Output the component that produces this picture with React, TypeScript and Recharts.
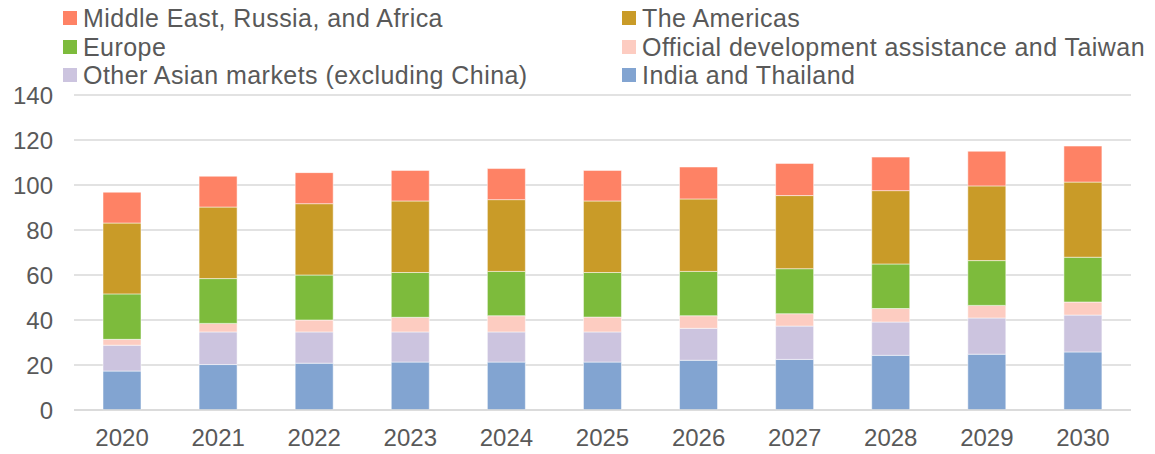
import { BarChart, Bar, XAxis, YAxis, CartesianGrid } from 'recharts'

const years = ['2020', '2021', '2022', '2023', '2024', '2025', '2026', '2027', '2028', '2029', '2030']
const indiaThailand = [17.3, 20.2, 20.8, 21.3, 21.3, 21.3, 22.1, 22.5, 24.3, 24.8, 25.8]
const otherAsian = [11.5, 14.5, 13.9, 13.4, 13.4, 13.4, 14.2, 14.8, 14.8, 16.1, 16.4]
const oda = [2.6, 3.8, 5.3, 6.5, 7.2, 6.6, 5.6, 5.5, 6.0, 5.6, 5.8]
const europe = [20.2, 19.9, 20.0, 19.9, 19.7, 19.8, 19.7, 20.0, 19.8, 19.9, 19.9]
const americas = [31.5, 31.8, 31.7, 31.8, 31.9, 31.8, 32.2, 32.5, 32.6, 33.2, 33.4]
const meRussiaAfrica = [13.7, 13.7, 13.8, 13.6, 13.8, 13.6, 14.2, 14.3, 14.9, 15.4, 16.0]
const yTicks = [0, 20, 40, 60, 80, 100, 120, 140]

const series = [
  { key: 'india', name: 'India and Thailand', color: '#82A4D1', values: indiaThailand },
  { key: 'otherAsian', name: 'Other Asian markets (excluding China)', color: '#CCC4DF', values: otherAsian },
  { key: 'oda', name: 'Official development assistance and Taiwan', color: '#FDCCC1', values: oda },
  { key: 'europe', name: 'Europe', color: '#7DBB3C', values: europe },
  { key: 'americas', name: 'The Americas', color: '#C99B28', values: americas },
  { key: 'mera', name: 'Middle East, Russia, and Africa', color: '#FE8265', values: meRussiaAfrica },
]

const data = years.map((year, i) => {
  const row: Record<string, string | number> = { year }
  series.forEach((s) => {
    row[s.key] = s.values[i]
  })
  return row
})

// legend order as in the reference: two columns, row by row
const legendOrder = ['mera', 'americas', 'europe', 'oda', 'otherAsian', 'india']

const font = '"Liberation Sans", Arial, sans-serif'
const textColor = '#595959'

function ChartLegend() {
  return (
    <div
      style={{
        position: 'absolute',
        left: 63,
        top: 4,
        display: 'grid',
        gridTemplateColumns: '559px 530px',
        fontFamily: font,
        fontSize: 25,
        letterSpacing: 0.45,
        color: textColor,
        lineHeight: '28.5px',
      }}
    >
      {legendOrder.map((k) => {
        const s = series.find((x) => x.key === k)!
        return (
          <div key={k} style={{ display: 'flex', alignItems: 'center', whiteSpace: 'nowrap' }}>
            <span style={{ width: 14, height: 14, background: s.color, marginRight: 6, flexShrink: 0 }} />
            <span>{s.name}</span>
          </div>
        )
      })}
    </div>
  )
}

export default function App() {
  return (
    <div style={{ position: 'absolute', left: 0, top: 0, width: 1155, height: 454, background: '#fff' }}>
      <BarChart
        width={1155}
        height={454}
        data={data}
        margin={{ top: 95, right: 24, bottom: 0, left: 0 }}
      >
        <CartesianGrid vertical={false} stroke="#D9D9D9" strokeWidth={1.7} />
        <XAxis
          dataKey="year"
          height={44}
          axisLine={{ stroke: '#D9D9D9', strokeWidth: 1.7 }}
          tickLine={false}
          tickSize={0}
          tickMargin={19}
          tick={{ fill: textColor, fontSize: 24, fontFamily: font }}
        />
        <YAxis
          width={74}
          domain={[0, 140]}
          ticks={yTicks}
          axisLine={false}
          tickLine={false}
          tickSize={0}
          tickMargin={21}
          tick={{ fill: textColor, fontSize: 24, fontFamily: font }}
        />
        {series.map((s) => (
          <Bar
            key={s.key}
            dataKey={s.key}
            name={s.name}
            stackId="a"
            fill={s.color}
            stroke="#ffffff"
            strokeOpacity={0.5}
            strokeWidth={1}
            barSize={38}
            isAnimationActive={false}
          />
        ))}
      </BarChart>
      <ChartLegend />
    </div>
  )
}
